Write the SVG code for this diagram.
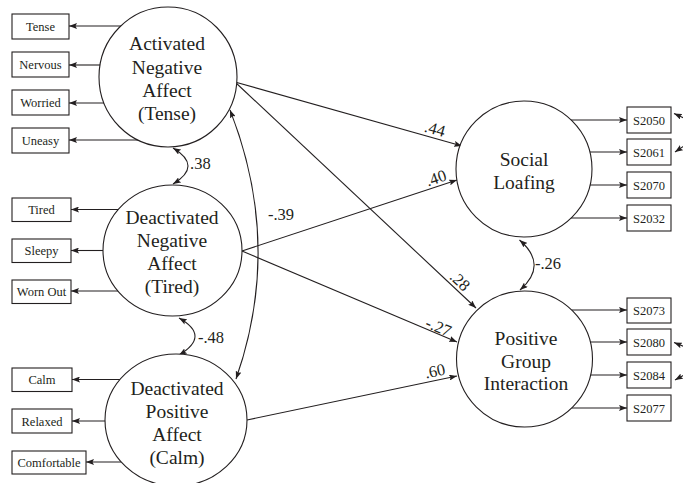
<svg xmlns="http://www.w3.org/2000/svg" width="683" height="483" viewBox="0 0 683 483">
<style>
text{font-family:"Liberation Serif","Times New Roman",serif;fill:#231f20}
.box{fill:#fff;stroke:#231f20;stroke-width:1.1}
.bt{font-size:12.5px;text-anchor:middle}
.lat{fill:#fff;stroke:#231f20;stroke-width:1.1}
.lt{font-size:19.5px;text-anchor:middle}
.c{fill:none;stroke:#231f20;stroke-width:1.1;marker-end:url(#ah)}
.d{fill:none;stroke:#231f20;stroke-width:1.1;marker-start:url(#ah);marker-end:url(#ah)}
.lab{font-size:16.5px}
.labm{font-size:16.5px;text-anchor:middle}
</style>
<defs>
<marker id="ah" viewBox="0 0 8 6" refX="8" refY="3" markerWidth="8" markerHeight="6" orient="auto-start-reverse" markerUnits="userSpaceOnUse">
<path d="M0,0 L8,3 L0,6 L1.5,3 z" fill="#231f20"/>
</marker>
</defs>
<rect width="683" height="483" fill="#fff"/>
<g id="connectors">
<path class="c" d="M121,26 L69,26"/>
<path class="c" d="M100,65 L69,65"/>
<path class="c" d="M105,103 L69,103"/>
<path class="c" d="M139,140 L69,140"/>
<path class="c" d="M118,209.5 L71,209.5"/>
<path class="c" d="M103,250.5 L71,250.5"/>
<path class="c" d="M118,291 L71,291"/>
<path class="c" d="M120,379.5 L72,379.5"/>
<path class="c" d="M105,421 L72,421"/>
<path class="c" d="M121,462 L86,462"/>
<path class="c" d="M571,120 L627,120"/>
<path class="c" d="M590,152 L627,152"/>
<path class="c" d="M590,185 L627,185"/>
<path class="c" d="M571,218 L627,218"/>
<path class="c" d="M571.5,310 L627,310"/>
<path class="c" d="M590,342 L627,342"/>
<path class="c" d="M590.5,375 L627,375"/>
<path class="c" d="M571.5,408 L627,408"/>
<path class="c" d="M684,118 L674,113.5"/>
<path class="c" d="M684,146 L675,152"/>
<path class="c" d="M684,346.5 L674,342.5"/>
<path class="c" d="M684,375 L675,380"/>
<path class="c" d="M235,82 L462,146"/>
<path class="c" d="M235,82 L476,308"/>
<path class="c" d="M242,251 L457,180"/>
<path class="c" d="M242,251 L457,342"/>
<path class="c" d="M247,420 L457,376"/>
<path class="d" d="M173,148 Q203,166 173,184"/>
<path class="d" d="M179,318 Q211,336 179,355"/>
<path class="d" d="M519.5,240 Q548.5,265 520,290"/>
<path class="d" d="M230,110 Q283,245 236,379"/>
<text class="labm" x="433.5" y="134.3" transform="rotate(15.7 433.5 134.3)">.44</text>
<text class="labm" x="456.3" y="285" transform="rotate(43 456.3 285)">.28</text>
<text class="labm" x="437.7" y="183.2" transform="rotate(-18.3 437.7 183.2)">.40</text>
<text class="labm" x="436.4" y="332" transform="rotate(22.9 436.4 332)">-.27</text>
<text class="labm" x="436.1" y="376.4" transform="rotate(-11.8 436.1 376.4)">.60</text>
<text class="lab" x="190" y="168.5">.38</text>
<text class="lab" x="198" y="343">-.48</text>
<text class="lab" x="535" y="269">-.26</text>
<text class="lab" x="268" y="220">-.39</text>
</g>
<g id="ana">
<ellipse class="lat" cx="168" cy="77" rx="69" ry="70"/>
<text class="lt" x="167" y="50">Activated</text>
<text class="lt" x="167" y="74">Negative</text>
<text class="lt" x="167" y="97">Affect</text>
<text class="lt" x="167" y="120">(Tense)</text>
</g>
<g id="dna">
<ellipse class="lat" cx="172.5" cy="250.5" rx="69.5" ry="65.5"/>
<text class="lt" x="172" y="224">Deactivated</text>
<text class="lt" x="172" y="247">Negative</text>
<text class="lt" x="172" y="270">Affect</text>
<text class="lt" x="172" y="293">(Tired)</text>
</g>
<g id="dpa">
<ellipse class="lat" cx="176" cy="420" rx="71" ry="66"/>
<text class="lt" x="177" y="395">Deactivated</text>
<text class="lt" x="177" y="418">Positive</text>
<text class="lt" x="177" y="441">Affect</text>
<text class="lt" x="177" y="464">(Calm)</text>
</g>
<g id="sl">
<circle class="lat" cx="524" cy="169" r="68"/>
<text class="lt" x="524" y="166">Social</text>
<text class="lt" x="524" y="189">Loafing</text>
</g>
<g id="pgi">
<circle class="lat" cx="524.5" cy="359" r="68"/>
<text class="lt" x="526" y="345">Positive</text>
<text class="lt" x="526" y="368">Group</text>
<text class="lt" x="526" y="390">Interaction</text>
</g>
<g id="tense"><rect class="box" x="12" y="14" width="57" height="25"/><text class="bt" x="40.5" y="31">Tense</text></g>
<g id="nervous"><rect class="box" x="12" y="52" width="57" height="25"/><text class="bt" x="40.5" y="69">Nervous</text></g>
<g id="worried"><rect class="box" x="12" y="90" width="57" height="25"/><text class="bt" x="40.5" y="107">Worried</text></g>
<g id="uneasy"><rect class="box" x="12" y="128" width="57" height="25"/><text class="bt" x="40.5" y="145">Uneasy</text></g>
<g id="tired"><rect class="box" x="12" y="198" width="59" height="23.5"/><text class="bt" x="41.5" y="214">Tired</text></g>
<g id="sleepy"><rect class="box" x="12" y="239" width="59" height="23.5"/><text class="bt" x="41.5" y="255">Sleepy</text></g>
<g id="wornout"><rect class="box" x="12" y="280" width="59" height="23.5"/><text class="bt" x="41.5" y="296">Worn Out</text></g>
<g id="calm"><rect class="box" x="12" y="368" width="60" height="23.5"/><text class="bt" x="42" y="384">Calm</text></g>
<g id="relaxed"><rect class="box" x="12" y="409" width="60" height="24"/><text class="bt" x="42" y="425.5">Relaxed</text></g>
<g id="comfortable"><rect class="box" x="12" y="451" width="74" height="23"/><text class="bt" x="49" y="466.5">Comfortable</text></g>
<g id="s2050"><rect class="box" x="627" y="107" width="44" height="26"/><text class="bt" x="649" y="124.5">S2050</text></g>
<g id="s2061"><rect class="box" x="627" y="139" width="44" height="26"/><text class="bt" x="649" y="156.5">S2061</text></g>
<g id="s2070"><rect class="box" x="627" y="172" width="44" height="26"/><text class="bt" x="649" y="189.5">S2070</text></g>
<g id="s2032"><rect class="box" x="627" y="205" width="44" height="26"/><text class="bt" x="649" y="222.5">S2032</text></g>
<g id="s2073"><rect class="box" x="627" y="298" width="44" height="25"/><text class="bt" x="649" y="315">S2073</text></g>
<g id="s2080"><rect class="box" x="627" y="329" width="44" height="26"/><text class="bt" x="649" y="346.5">S2080</text></g>
<g id="s2084"><rect class="box" x="627" y="362" width="44" height="26"/><text class="bt" x="649" y="379.5">S2084</text></g>
<g id="s2077"><rect class="box" x="627" y="395" width="44" height="26"/><text class="bt" x="649" y="412.5">S2077</text></g>
</svg>
